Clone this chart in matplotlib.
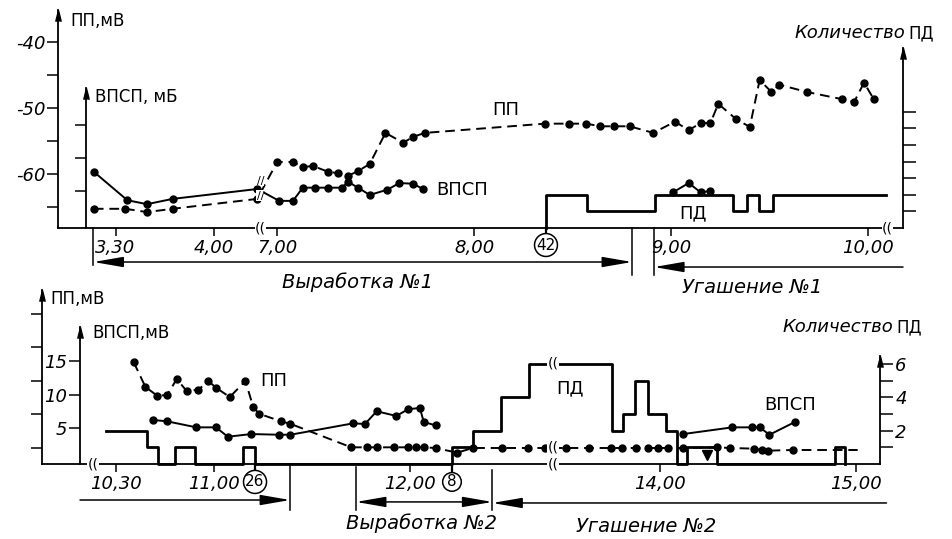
import numpy as np
import matplotlib
matplotlib.use("Agg")
import matplotlib.pyplot as plt
from matplotlib.ticker import NullLocator
from matplotlib.transforms import blended_transform_factory
from matplotlib.patches import ArrowStyle

plt.rcParams['font.family'] = ['DejaVu Sans']

# ------------------------------------------------------------------ DATA
# time in decimal hours; ПП, ВПСП in mV; ПД = number of spikes
# --- upper record (Выработка №1 / Угашение №1)
top_pp_t = [3.39, 3.55, 3.66, 3.79, 4.22,
            7.00, 7.08, 7.13, 7.18, 7.26, 7.31, 7.36, 7.41, 7.47, 7.55, 7.64, 7.69, 7.75,
            8.36, 8.48, 8.57, 8.64, 8.71, 8.79, 8.91,
            9.02, 9.09, 9.15, 9.20, 9.24, 9.33, 9.40, 9.45, 9.51, 9.55, 9.69, 9.87, 9.93, 9.98, 10.03]
top_pp_v = [-65.2, -65.2, -65.7, -65.2, -63.7,
            -58.1, -58.1, -58.9, -58.7, -59.6, -59.8, -60.2, -59.5, -58.4, -53.7, -55.2, -54.3, -53.7,
            -52.3, -52.3, -52.3, -52.7, -52.7, -52.7, -53.7,
            -52.0, -53.3, -52.2, -52.2, -49.3, -51.6, -52.8, -45.7, -47.5, -46.4, -47.5, -48.6, -49.0, -46.1, -48.6]
top_vpsp_t = [3.39, 3.56, 3.66, 3.79, 4.22,
              7.01, 7.08, 7.13, 7.19, 7.26, 7.33, 7.36, 7.41, 7.47, 7.56, 7.62, 7.69, 7.74]
top_vpsp_v = [7.9, 3.6, 3.0, 3.8, 5.3,
              3.5, 3.5, 5.5, 5.5, 5.5, 5.5, 6.4, 5.5, 4.4, 5.2, 6.2, 6.1, 5.3]
top_vpsp2_t = [9.01, 9.09, 9.15, 9.20]
top_vpsp2_v = [4.8, 6.2, 4.8, 5.0]
top_pd_t = [8.365, 8.365, 8.574, 8.919, 9.315, 9.386, 9.447, 9.518, 10.091]
top_pd_n = [0, 2, 1, 2, 1, 2, 1, 2, 2]
top_total_t = [8.365]
top_total_n = [42]
top_xticks = [3.5, 4.0, 7.0, 8.0, 9.0, 10.0]
top_xticklabels = ['3,30', '4,00', '7,00', '8,00', '9,00', '10,00']
top_pp_ticks = [-65, -60, -55, -50, -45, -40]
top_pp_ticklabels = ['', '-60', '', '-50', '', '-40']
top_vpsp_ticks = [5, 10, 15]
top_pd_ticks = [1, 2, 3, 4, 5, 6, 7]
top_phase_names = ['Выработка №1', 'Угашение №1']
top_phase_start = [3.388, 8.914]
top_phase_end = [8.802, 10.178]
top_phase_label_t = [7.41, 9.41]

# --- lower record (Выработка №2 / Угашение №2)
bot_pp_t = [10.59, 10.65, 10.71, 10.76, 10.81, 10.86, 10.92, 10.97, 11.01, 11.08, 11.16, 11.20, 11.23, 11.34, 11.39,
            11.70, 11.78, 11.83, 11.92, 11.99, 12.03, 12.07, 12.13, 12.24, 12.32, 12.47, 12.60, 12.69,
            13.52, 13.64, 13.75, 13.81, 13.88, 13.94, 13.99, 14.04, 14.12, 14.29, 14.36, 14.48, 14.52, 14.55, 14.68, 15.01]
bot_pp_v = [-52.2, -55.9, -57.2, -57.1, -54.7, -56.5, -56.3, -55.0, -56.0, -57.4, -55.0, -58.9, -59.9, -61.0, -61.4,
            -64.9, -64.9, -64.9, -64.9, -64.9, -64.9, -64.9, -65.0, -65.7, -65.0, -65.0, -65.0, -65.0,
            -65.0, -65.0, -65.0, -65.0, -65.0, -65.0, -65.0, -65.0, -65.0, -64.9, -65.0, -65.1, -65.3, -65.4, -65.3, -65.3]
bot_pp_dip_t = [14.24]
bot_pp_dip_v = [-66.0]
bot_vpsp_t = [10.69, 10.76, 10.91, 11.01, 11.07, 11.19, 11.33, 11.39,
              11.71, 11.77, 11.83, 11.93, 11.99, 12.05, 12.07, 12.13]
bot_vpsp_v = [6.2, 6.0, 5.1, 5.1, 3.7, 4.1, 4.0, 4.0,
              5.7, 5.6, 7.5, 6.8, 7.8, 8.0, 5.9, 5.4]
bot_vpsp2_t = [14.12, 14.37, 14.47, 14.51, 14.56, 14.69]
bot_vpsp2_v = [4.1, 5.1, 5.1, 5.1, 4.0, 5.9]
bot_pd_t = [10.449, 10.658, 10.714, 10.801, 10.903, 11.148, 11.209,
            12.214, 12.321, 12.464, 12.607, 13.756, 13.812, 13.873, 13.939, 14.030, 14.086,
            14.137, 14.294, 14.893, 14.944]
bot_pd_n = [2, 1, 0, 1, 0, 1, 0,
            1, 2, 4, 6, 2, 3, 5, 3, 2, 0,
            1, 0, 1, 0]
bot_total_t = [11.209, 12.214]
bot_total_n = [26, 8]
bot_xticks = [10.5, 11.0, 12.0, 14.0, 15.0]
bot_xticklabels = ['10,30', '11,00', '12,00', '14,00', '15,00']
bot_pp_ticks = [-65, -60, -55, -50, -45]
bot_vpsp_ticks = [5, 10, 15]
bot_vpsp_ticklabels = ['5', '10', '15']
bot_pd_ticks = [1, 2, 3, 4, 5, 6]
bot_pd_ticklabels = ['', '2', '', '4', '', '6']
bot_phase_names = ['', 'Выработка №2', 'Угашение №2']
bot_phase_start = [10.316, 11.724, 12.42]
bot_phase_end = [11.388, 12.42, 15.157]
bot_phase_label_t = [10.85, 12.06, 13.93]

# broken time axes: hours -> drawn position (layout)
top_knots_h = [0.0, 4.235, 6.915, 24.0]
top_knots_u = [2.68, 6.915, 6.916, 24.0]
bot_knots_h = [0.0, 12.73, 13.457, 24.0]
bot_knots_u = [0.0, 12.73, 12.731, 23.274]

# ------------------------------------------------------------------ LAYOUT
W, H = 952, 539
fig = plt.figure(figsize=(W / 100, H / 100), dpi=100)
fig.patch.set_facecolor('white')
LW = 1.3


def rect(l, t, r, b):
    return [l / W, 1 - b / H, (r - l) / W, (b - t) / H]


def make_scale(hk, uk):
    hk = np.asarray(hk, float)
    uk = np.asarray(uk, float)
    return (lambda x: np.interp(x, hk, uk), lambda x: np.interp(x, uk, hk))


ARROW = [(-1, -4), (0, 0), (1, -4)]


def arrow_up(a, xfrac, ytop):
    tr = blended_transform_factory(a.transAxes, a.transData)
    a.plot([xfrac], [ytop], transform=tr, marker=ARROW, ms=16, color='k',
           clip_on=False, zorder=6, ls='none')


def panel(rpx, knots, xlim, xt, xtl, pp_lim, pp_t, pp_l, v_lim, v_frac, v_top, v_t, v_l,
          pd_lim, pd_top, pd_t, pd_l):
    ax = fig.add_axes(rect(*rpx))
    ax.set_xscale('function', functions=make_scale(*knots))
    ax.set_xlim(*xlim)
    ax.set_ylim(*pp_lim)
    ax.patch.set_alpha(0)
    for s in ('top', 'right'):
        ax.spines[s].set_visible(False)
    for s in ('left', 'bottom'):
        ax.spines[s].set_linewidth(LW)
    ax.set_xticks(xt)
    ax.set_xticklabels(xtl, fontstyle='italic')
    ax.xaxis.set_minor_locator(NullLocator())
    ax.tick_params(axis='x', direction='out', length=6, width=1.1, labelsize=13, pad=2)
    ax.set_yticks(pp_t)
    ax.set_yticklabels(pp_l, fontstyle='italic')
    ax.yaxis.set_minor_locator(NullLocator())
    ax.tick_params(axis='y', direction='out', length=8, width=1.1, labelsize=13, pad=1)
    arrow_up(ax, 0.0, pp_lim[1])

    av = ax.twinx()
    av.set_ylim(*v_lim)
    for s in ('top', 'right', 'bottom'):
        av.spines[s].set_visible(False)
    av.spines['left'].set_visible(True)
    av.spines['left'].set_linewidth(LW)
    av.spines['left'].set_position(('axes', v_frac))
    av.spines['left'].set_bounds(v_lim[0], v_top)
    av.yaxis.set_ticks_position('left')
    av.set_yticks(v_t)
    av.set_yticklabels(v_l, fontstyle='italic')
    av.yaxis.set_minor_locator(NullLocator())
    av.tick_params(axis='y', direction='out', length=8, width=1.1, labelsize=13, pad=1)
    arrow_up(av, v_frac, v_top)

    ap = ax.twinx()
    ap.set_ylim(*pd_lim)
    for s in ('top', 'left', 'bottom'):
        ap.spines[s].set_visible(False)
    ap.spines['right'].set_linewidth(LW)
    ap.spines['right'].set_bounds(pd_lim[0], pd_top)
    ap.set_yticks(pd_t)
    ap.set_yticklabels(pd_l, fontstyle='italic')
    ap.yaxis.set_minor_locator(NullLocator())
    ap.tick_params(axis='y', direction='out', length=9, width=1.1, labelsize=13, pad=2)
    arrow_up(ap, 1.0, pd_top)
    return ax, av, ap


PP_STYLE = dict(color='k', lw=1.4, ls=(0, (5, 3)), marker='o', ms=5, mfc='k', mec='k',
                zorder=4, clip_on=False)
V_STYLE = dict(color='k', lw=1.4, ls='-', marker='o', ms=5, mfc='k', mec='k', zorder=4, clip_on=False)
PD_STYLE = dict(color='k', lw=2.0, where='post', zorder=3, clip_on=False)


def brk(a, x, y, tr=None, s='((', size=10):
    a.text(x, y, s, transform=tr if tr is not None else a.transData, ha='center', va='center',
           fontsize=size, zorder=7, bbox=dict(fc='white', ec='none', pad=0.2), clip_on=False)


def phases(ax, names, t0s, t1s, lab_t, y_line, y_lab, styles, ticks):
    tr = blended_transform_factory(ax.transData, ax.transAxes)
    for name, t0, t1, lt, yl, ylab, st in zip(names, t0s, t1s, lab_t, y_line, y_lab, styles):
        ax.annotate('', xy=(t1, yl), xytext=(t0, yl), xycoords=tr, textcoords=tr,
                    annotation_clip=False,
                    arrowprops=dict(arrowstyle=ArrowStyle(st, head_length=2.6, head_width=0.45),
                                    lw=1.1, color='k', shrinkA=0, shrinkB=0, mutation_scale=7))
        if name:
            ax.text(lt, ylab, name, transform=tr, ha='center', va='center', fontsize=14,
                    fontstyle='italic', clip_on=False)
    for t, y0, y1 in ticks:
        ax.plot([t, t], [y0, y1], transform=tr, color='k', lw=1.1, clip_on=False)


def totals(ax, ts, ns, yc):
    tr = blended_transform_factory(ax.transData, ax.transAxes)
    for t, n in zip(ts, ns):
        ax.plot([t, t], [0, yc + 0.03], transform=tr, color='k', lw=1.6, clip_on=False)
        ax.text(t, yc, str(n), transform=tr, ha='center', va='center', fontsize=11, zorder=6,
                bbox=dict(boxstyle='circle,pad=0.12', fc='white', ec='k', lw=1.1), clip_on=False)


# ------------------------------------------------------------------ UPPER PANEL
ax1, av1, ap1 = panel((58, 10, 903, 228), (top_knots_h, top_knots_u), (3.208, 10.178),
                      top_xticks, top_xticklabels,
                      (-68.11, -35.08), top_pp_ticks, top_pp_ticklabels,
                      (-0.61, 32.42), 0.0331, 20.6, top_vpsp_ticks, ['', '', ''],
                      (0, 13.13), 10.84, top_pd_ticks, [''] * 7)
ax1.plot(top_pp_t, top_pp_v, **PP_STYLE)
av1.plot(top_vpsp_t, top_vpsp_v, **V_STYLE)
av1.plot(top_vpsp2_t, top_vpsp2_v, **V_STYLE)
ap1.step(top_pd_t, top_pd_n, **PD_STYLE)
totals(ax1, top_total_t, top_total_n, -0.078)
phases(ax1, top_phase_names, top_phase_start, top_phase_end, top_phase_label_t,
       [-0.156, -0.179], [-0.248, -0.271], ['<|-|>', '<|-'],
       [(3.388, 0, -0.17), (8.802, 0, -0.216), (8.914, 0, -0.216)])
tr1 = blended_transform_factory(ax1.transData, ax1.transAxes)
brk(ax1, 5.5, 0.0, tr1)
brk(ax1, 10.10, 0.0, tr1)
brk(ax1, 5.5, -61.0, s='//', size=8)
brk(av1, 5.5, 4.3, s='//', size=8)
ax1.text(8.16, -50.2, 'ПП', ha='center', va='center', fontsize=13)
av1.text(7.81, 5.15, 'ВПСП', ha='left', va='center', fontsize=13)
ap1.text(9.11, 0.9, 'ПД', ha='center', va='center', fontsize=13)

# ------------------------------------------------------------------ LOWER PANEL
ax2, av2, ap2 = panel((42, 290, 880, 464), (bot_knots_h, bot_knots_u), (10.122, 15.124),
                      bot_xticks, bot_xticklabels,
                      (-67.39, -41.42), bot_pp_ticks, [''] * 5,
                      (-0.37, 25.6), 0.0453, 20.07, bot_vpsp_ticks, bot_vpsp_ticklabels,
                      (0, 10.42), 6.47, bot_pd_ticks, bot_pd_ticklabels)
ax2.plot(bot_pp_t, bot_pp_v, markevery=list(range(len(bot_pp_t) - 1)), **PP_STYLE)
ax2.plot(bot_pp_dip_t, bot_pp_dip_v, ls='none', marker='v', ms=7, color='k', zorder=4)
av2.plot(bot_vpsp_t, bot_vpsp_v, **V_STYLE)
av2.plot(bot_vpsp2_t, bot_vpsp2_v, **V_STYLE)
ap2.step(bot_pd_t, bot_pd_n, **PD_STYLE)
totals(ax2, bot_total_t, bot_total_n, -0.103)
phases(ax2, bot_phase_names, bot_phase_start, bot_phase_end, bot_phase_label_t,
       [-0.207, -0.218, -0.224], [-0.339, -0.339, -0.362], ['-|>', '<|-|>', '<|-'],
       [(11.388, 0, -0.264), (11.724, -0.02, -0.264), (12.42, -0.035, -0.264)])
tr2 = blended_transform_factory(ax2.transData, ax2.transAxes)
brk(ax2, 10.383, 0.0, tr2)
brk(ax2, 13.0, 0.0, tr2)
brk(ap2, 13.0, 6.0)
brk(ax2, 13.0, -65.0)
ax2.text(11.235, -55.0, 'ПП', ha='left', va='center', fontsize=13)
ap2.text(13.543, 4.5, 'ПД', ha='center', va='center', fontsize=13)
av2.text(14.665, 8.4, 'ВПСП', ha='center', va='center', fontsize=13)

# ------------------------------------------------------------------ AXIS TITLES
def ftext(x, y, s, **kw):
    fig.text(x / W, 1 - y / H, s, va='center', **kw)


ftext(70, 21, 'ПП,мВ', fontsize=12)
ftext(95, 97, 'ВПСП, мБ', fontsize=12)
ftext(905, 33, 'Количество', fontsize=13, fontstyle='italic', ha='right')
ftext(908, 33, 'ПД', fontsize=12, ha='left')
ftext(50, 299, 'ПП,мВ', fontsize=12)
ftext(92, 333, 'ВПСП,мВ', fontsize=12)
ftext(893, 327, 'Количество', fontsize=13, fontstyle='italic', ha='right')
ftext(896, 327, 'ПД', fontsize=12, ha='left')

fig.savefig('out.png', dpi=100, facecolor='white')
